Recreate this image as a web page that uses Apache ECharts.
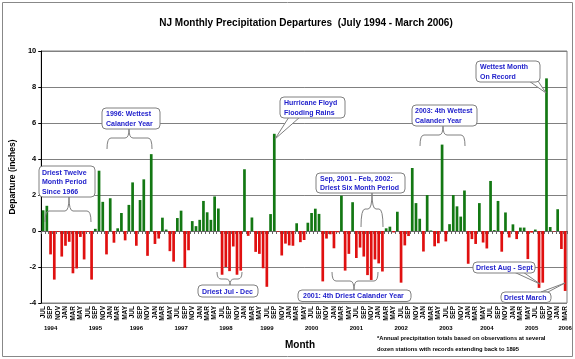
<!DOCTYPE html>
<html>
<head>
<meta charset="utf-8">
<script src="https://cdn.jsdelivr.net/npm/echarts@6/dist/echarts.min.js"></script>
<style>html,body{margin:0;padding:0;background:#fff}#c{width:575px;height:359px}</style>
</head>
<body>
<div id="c"></div>
<script>
// ---- data ----
const monthNames = ['JAN','FEB','MAR','APR','MAY','JUN','JUL','AUG','SEP','OCT','NOV','DEC'];
const startYear = 1994, startMonth = 6, monthCount = 141; // Jul 1994 .. Mar 2006
const categories = [];
for (let i = 0; i < monthCount; i++) {
  const m = (startMonth + i) % 12, y = startYear + Math.floor((startMonth + i) / 12);
  categories.push(monthNames[m] + ' ' + y);
}
// monthly departures (inches), Jul 1994 .. Mar 2006
const departures = [
  1.15, 1.40, -1.30, -2.70, -0.05, -1.42,            // 1994 Jul-Dec
  -0.82, -0.60, -2.35, -2.08, -0.33, -1.58, -0.05, -2.70, 0.12, 3.35, 1.62, -1.30, // 1995
  1.82, -0.65, 0.15, 1.00, -0.52, 1.45, 2.70, -0.82, 1.72, 2.87, -1.38, 4.27,      // 1996
  -0.72, -0.42, 0.74, 0.08, -1.12, -1.70, 0.72, 1.13, -2.05, -1.07, 0.55, 0.27,    // 1997
  0.62, 1.67, 1.04, 0.62, 1.92, 1.25, -2.43, -2.00, -2.23, -0.86, -2.43, -2.20,    // 1998
  3.43, -0.27, 0.75, -1.16, -1.27, -2.07, -3.10, 0.94, 5.40, -0.04, -1.36, -0.70,  // 1999
  -0.80, -0.82, 0.43, -0.62, -0.50, 0.46, 1.00, 1.24, 0.95, -2.80, -0.42, -0.18,   // 2000
  -0.96, -0.07, 1.96, -2.20, -1.27, 1.60, -1.50, -0.92, -1.42, -2.45, -2.72, -1.58,// 2001
  -1.80, -2.25, 0.15, 0.24, -0.08, 1.07, -2.87, -0.80, -0.28, 3.50, 1.55, 0.68,    // 2002
  -1.14, 2.00, 0.03, -0.85, -0.68, 4.80, -0.58, 0.38, 2.00, 1.37, 0.80, 2.25,      // 2003
  -1.82, -0.45, -0.72, 1.55, -0.64, -0.97, 2.78, 0.05, 1.67, -1.15, 1.03, -0.36,   // 2004
  0.37, -0.45, 0.19, 0.19, -1.56, -0.09, 0.08, -3.16, -2.87, 8.48, 0.22, -0.03,    // 2005
  1.21, -1.00, -3.33                                                                // 2006 Jan-Mar
];
const yTicks = { min: -4, max: 10, interval: 2 };
const yearLabels = ['1994','1995','1996','1997','1998','1999','2000','2001','2002','2003','2004','2005','2006'];
const yearLabelAt = [2, 14, 25, 37, 49, 60, 72, 84, 96, 108, 119, 131, 140]; // category index under which each year label sits

// ---- styling ----
const FONT = '"Liberation Sans", Arial, sans-serif';
const GREEN = '#137813', RED = '#e01010';
const BLUE = '#2222cc', GRAY = '#808080';

function box(x, y, w, h) {
  return { type: 'rect', z: 101, silent: true, shape: { x: x, y: y, width: w, height: h, r: 4 },
    style: { fill: '#fff', stroke: GRAY, lineWidth: 1 } };
}
function note(x, y, text) {
  return { type: 'text', z: 102, silent: true, x: x, y: y,
    style: { text: text, font: 'bold 7px ' + FONT, fill: BLUE, lineHeight: 9.5, align: 'left', verticalAlign: 'top' } };
}
function wedge(pts) {
  return { type: 'polygon', z: 100, silent: true, shape: { points: pts },
    style: { fill: '#fff', stroke: GRAY, lineWidth: 1 } };
}
function brace(x1, x2, xc, yTip, yMid, yEnd) {
  const r = 4, st = { stroke: GRAY, lineWidth: 1, fill: null };
  return [
    { type: 'bezierCurve', z: 100, silent: true, shape: { x1: x1, y1: yEnd, cpx1: x1, cpy1: yMid, x2: x1 + r, y2: yMid }, style: st },
    { type: 'line', z: 100, silent: true, shape: { x1: x1 + r, y1: yMid, x2: xc - r, y2: yMid }, style: st },
    { type: 'bezierCurve', z: 100, silent: true, shape: { x1: xc - r, y1: yMid, cpx1: xc, cpy1: yMid, x2: xc, y2: yTip }, style: st },
    { type: 'bezierCurve', z: 100, silent: true, shape: { x1: xc, y1: yTip, cpx1: xc, cpy1: yMid, x2: xc + r, y2: yMid }, style: st },
    { type: 'line', z: 100, silent: true, shape: { x1: xc + r, y1: yMid, x2: x2 - r, y2: yMid }, style: st },
    { type: 'bezierCurve', z: 100, silent: true, shape: { x1: x2 - r, y1: yMid, cpx1: x2, cpy1: yMid, x2: x2, y2: yEnd }, style: st }
  ];
}

const graphics = [].concat(
  [{ type: 'rect', z: -10, silent: true, shape: { x: 2.5, y: 2.5, width: 570, height: 354 }, style: { fill: null, stroke: '#888', lineWidth: 1 } }],
  // Driest twelve month
  [box(39, 166, 56, 31), note(42, 168, 'Driest Twelve\nMonth Period\nSince 1966')],
  brace(45, 91, 69, 197, 211, 222),
  // 1996
  [box(102, 108, 58, 21), note(106, 109.5, '1996: Wettest\nCalander Year')],
  brace(107, 152, 129, 129, 138, 149),
  // Floyd
  [wedge([[289, 117], [300, 117], [275, 139]]), box(280, 97, 65, 21), note(284, 98.5, 'Hurricane Floyd\nFlooding Rains')],
  // Sep 2001 - Feb 2002
  [box(316, 173, 89, 20), note(320, 174, 'Sep, 2001 - Feb, 2002:\nDriest Six Month Period')],
  brace(361, 383, 372, 193, 209, 227),
  // Driest Jul - Dec
  brace(217, 242, 230, 285, 279, 272),
  [box(198, 285, 60, 12), note(202, 287, 'Driest Jul - Dec')],
  // 2001 driest
  brace(332, 378, 354, 290, 281, 272),
  [box(298, 290, 113, 11.5), note(303, 291.5, '2001: 4th Driest Calander Year')],
  // 2003
  [box(412, 105, 65, 21), note(415, 106.5, '2003: 4th Wettest\nCalander Year')],
  brace(420, 465, 443, 126, 135, 146),
  // Wettest month
  [wedge([[529, 81], [538, 81], [546, 93]]), box(476, 61, 64, 21), note(480, 62.5, 'Wettest Month\nOn Record')],
  // Driest Aug - Sept
  [wedge([[514, 272], [523, 272], [540, 284]]), box(473, 262, 62, 11), note(476, 263.5, 'Driest Aug - Sept')],
  // Driest March
  [wedge([[541, 292], [548, 292], [565, 283]]), box(501, 292, 50, 10.5), note(504, 293, 'Driest March')],
  // axis title & footnote
  [{ type: 'text', z: 50, silent: true, x: 300, y: 345,
     style: { text: 'Month', font: 'bold 10px ' + FONT, fill: '#000', align: 'center', verticalAlign: 'middle' } },
   { type: 'text', z: 50, silent: true, x: 377, y: 333,
     style: { text: '*Annual precipitation totals based on observations at several\ndozen stations with records extending back to 1895',
              font: 'bold 5.8px ' + FONT, fill: '#000', lineHeight: 11, align: 'left', verticalAlign: 'top' } }]
);

const chart = echarts.init(document.getElementById('c'), null, { renderer: 'canvas' });
chart.setOption({
  animation: false,
  backgroundColor: '#fff',
  title: {
    text: 'NJ Monthly Precipitation Departures  (July 1994 - March 2006)',
    left: 301, top: 13, textAlign: 'center',
    textStyle: { fontSize: 10, fontWeight: 'bold', fontFamily: FONT, color: '#000' }
  },
  grid: { left: 38, right: 8, top: 51, bottom: 56, show: true, borderColor: GRAY, borderWidth: 1, containLabel: false },
  xAxis: [
    { type: 'category', data: categories, position: 'bottom',
      axisLine: { onZero: true, lineStyle: { color: '#666', width: 1 } },
      axisTick: { show: true, interval: 0, length: 3, lineStyle: { color: '#666' } },
      axisLabel: { show: false }, splitLine: { show: false } },
    { type: 'category', data: categories, position: 'bottom',
      axisLine: { show: false, onZero: false }, axisTick: { show: false },
      axisLabel: { interval: 1, rotate: 90, margin: 3, formatter: v => v.slice(0, 3),
        fontSize: 6.5, fontWeight: 'bold', fontFamily: FONT, color: '#000' } },
    { type: 'category', data: categories, position: 'bottom', offset: 22,
      axisLine: { show: false, onZero: false }, axisTick: { show: false },
      axisLabel: { interval: 0, margin: 0, fontSize: 6, fontWeight: 'bold', fontFamily: FONT, color: '#000',
        formatter: (v, i) => { const k = yearLabelAt.indexOf(i); return k >= 0 ? yearLabels[k] : ''; } } }
  ],
  yAxis: {
    type: 'value', min: yTicks.min, max: yTicks.max, interval: yTicks.interval,
    name: 'Departure (inches)', nameLocation: 'middle', nameGap: 19,
    nameTextStyle: { fontSize: 8.5, fontWeight: 'bold', fontFamily: FONT, color: '#000' },
    axisLine: { show: true, lineStyle: { color: '#000' } },
    axisTick: { show: true, length: 3, lineStyle: { color: '#000' } },
    axisLabel: { fontSize: 7.5, fontWeight: 'bold', fontFamily: FONT, color: '#000', margin: 5 },
    splitLine: { show: true, lineStyle: { color: GRAY, width: 1 } }
  },
  series: [{
    type: 'bar', xAxisIndex: 0, yAxisIndex: 0, data: departures, barWidth: 2.7,
    itemStyle: { color: p => (p.value >= 0 ? GREEN : RED) }
  }],
  graphic: graphics
});
</script>
</body>
</html>
